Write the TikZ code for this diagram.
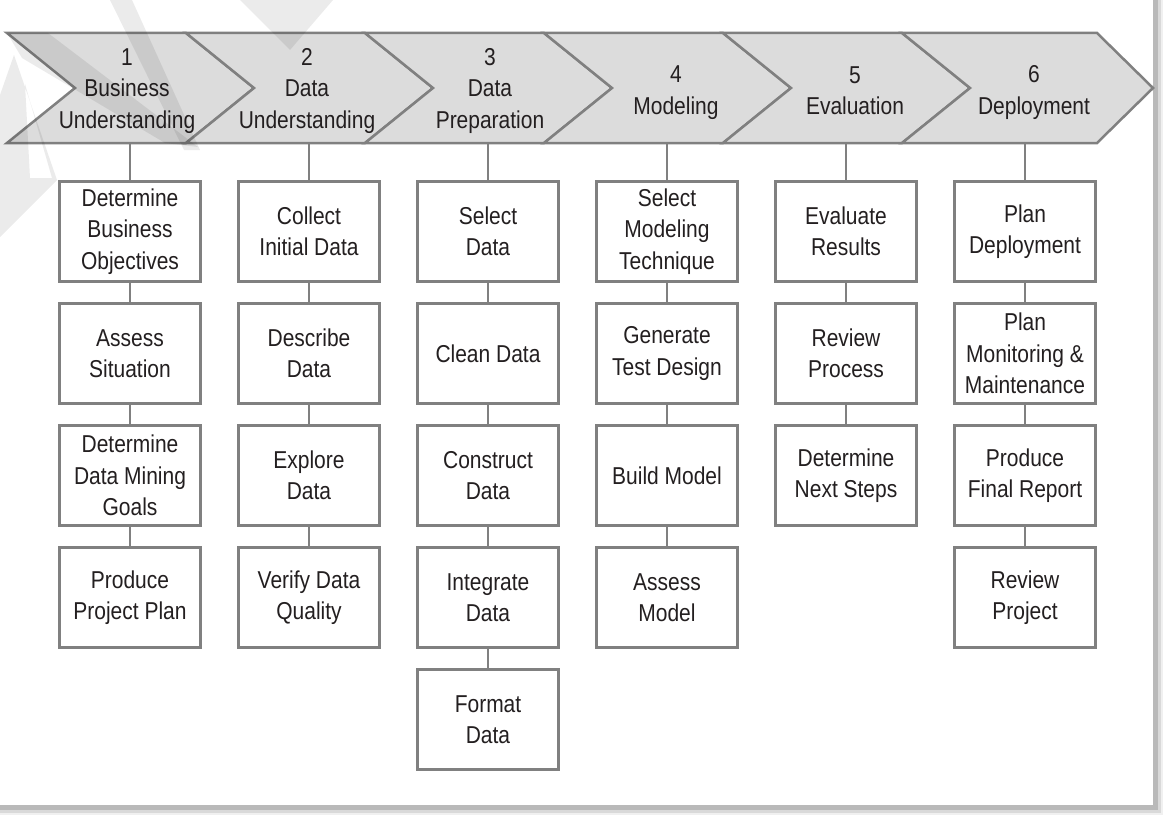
\documentclass[tikz,border=0pt]{standalone}
\usepackage{fontspec}
\setmainfont{Liberation Sans}[FakeStretch=0.86]
\definecolor{chevfill}{HTML}{DCDCDC}
\definecolor{linegray}{HTML}{808080}
\definecolor{txt}{HTML}{231F20}
\begin{document}
\begin{tikzpicture}[x=1pt,y=-1pt,
  chev/.style={fill=chevfill,draw=linegray,line width=2.5pt,line join=miter},
  stage/.style={text=txt,align=center,inner sep=0pt,font=\fontsize{24.4}{31.5}\selectfont},
  task/.style={draw=linegray,line width=2.8pt,fill=white,minimum width=141pt,minimum height=100pt,
    align=center,text=txt,inner sep=0pt,font=\fontsize{24.4}{31.5}\selectfont},
  link/.style={draw=linegray,line width=2.5pt},
  wmark/.style={fill=black,fill opacity=0.08,draw=none}]
\useasboundingbox (0,0) rectangle (1164,816);
% frame with shadow
\fill[gray!12] (0,0) rectangle (1163,815);
\fill[gray!30] (0,0) rectangle (1161,813);
\fill[gray!55] (0,0) rectangle (1158,810);
\fill[white] (0,0) rectangle (1153,805);
% chevrons
\foreach \k in {0,...,4}{
  \pgfmathsetmacro\xl{7+179*\k}
  \pgfmathsetmacro\xr{186+179*\k}
  \draw[chev] (\xl,33) -- (\xr,33) -- (\xr+68,88) -- (\xr,143) -- (\xl,143) -- (\xl+68,88) -- cycle;
}
\draw[chev] (902,33) -- (1097,33) -- (1153,88) -- (1097,143) -- (902,143) -- (970,88) -- cycle;
% stage labels
\node[stage] (c1) at (127,91) {1\\Business\\Understanding};
\node[stage] (c2) at (307,91) {2\\Data\\Understanding};
\node[stage] (c3) at (490,91) {3\\Data\\Preparation};
\node[stage] (c4) at (676,92.5) {4\\Modeling};
\node[stage] (c5) at (855,90.5) {5\\Evaluation};
\node[stage] (c6) at (1034,92.5) {6\\Deployment};
% chevron bottom anchors
\foreach \k in {1,...,6}{
  \pgfmathsetmacro\cx{130+179*(\k-1)}
  \coordinate (cb\k) at (\cx,143);
}
% tasks
\node[task] (a1) at (130,231.5) {Determine\\Business\\Objectives};
\node[task] (a2) at (130,353.5) {Assess\\Situation};
\node[task] (a3) at (130,475.5) {Determine\\Data Mining\\Goals};
\node[task] (a4) at (130,597.5) {Produce\\Project Plan};
\node[task] (b1) at (309,231.5) {Collect\\Initial Data};
\node[task] (b2) at (309,353.5) {Describe\\Data};
\node[task] (b3) at (309,475.5) {Explore\\Data};
\node[task] (b4) at (309,597.5) {Verify Data\\Quality};
\node[task] (d1) at (488,231.5) {Select\\Data};
\node[task] (d2) at (488,353.5) {Clean Data};
\node[task] (d3) at (488,475.5) {Construct\\Data};
\node[task] (d4) at (488,597.5) {Integrate\\Data};
\node[task] (d5) at (488,719.5) {Format\\Data};
\node[task] (m1) at (667,231.5) {Select\\Modeling\\Technique};
\node[task] (m2) at (667,353.5) {Generate\\Test Design};
\node[task] (m3) at (667,475.5) {Build Model};
\node[task] (m4) at (667,597.5) {Assess\\Model};
\node[task] (e1) at (846,231.5) {Evaluate\\Results};
\node[task] (e2) at (846,353.5) {Review\\Process};
\node[task] (e3) at (846,475.5) {Determine\\Next Steps};
\node[task] (p1) at (1025,231.5) {Plan\\Deployment};
\node[task] (p2) at (1025,353.5) {Plan\\Monitoring \&\\Maintenance};
\node[task] (p3) at (1025,475.5) {Produce\\Final Report};
\node[task] (p4) at (1025,597.5) {Review\\Project};
% connectors
\draw[link] (cb1) -- (a1.north);
\draw[link] (a1) -- (a2); \draw[link] (a2) -- (a3); \draw[link] (a3) -- (a4);
\draw[link] (cb2) -- (b1.north);
\draw[link] (b1) -- (b2); \draw[link] (b2) -- (b3); \draw[link] (b3) -- (b4);
\draw[link] (cb3) -- (d1.north);
\draw[link] (d1) -- (d2); \draw[link] (d2) -- (d3); \draw[link] (d3) -- (d4); \draw[link] (d4) -- (d5);
\draw[link] (cb4) -- (m1.north);
\draw[link] (m1) -- (m2); \draw[link] (m2) -- (m3); \draw[link] (m3) -- (m4);
\draw[link] (cb5) -- (e1.north);
\draw[link] (e1) -- (e2); \draw[link] (e2) -- (e3);
\draw[link] (cb6) -- (p1.north);
\draw[link] (p1) -- (p2); \draw[link] (p2) -- (p3); \draw[link] (p3) -- (p4);
% watermark
\fill[wmark] (110,0) -- (132,0) -- (200,150) -- (184,150) -- cycle;
\fill[wmark] (7,33) -- (48,33) -- (198,147) -- (165,143) -- (22,58) -- cycle;
\fill[wmark] (240,0) -- (333,0) -- (290,50) -- cycle;
\fill[wmark,even odd rule] (0,95) -- (14,55) -- (57,180) -- (0,237) -- cycle
   (25,84) -- (52,178) -- (30,178) -- cycle;
\end{tikzpicture}
\end{document}
